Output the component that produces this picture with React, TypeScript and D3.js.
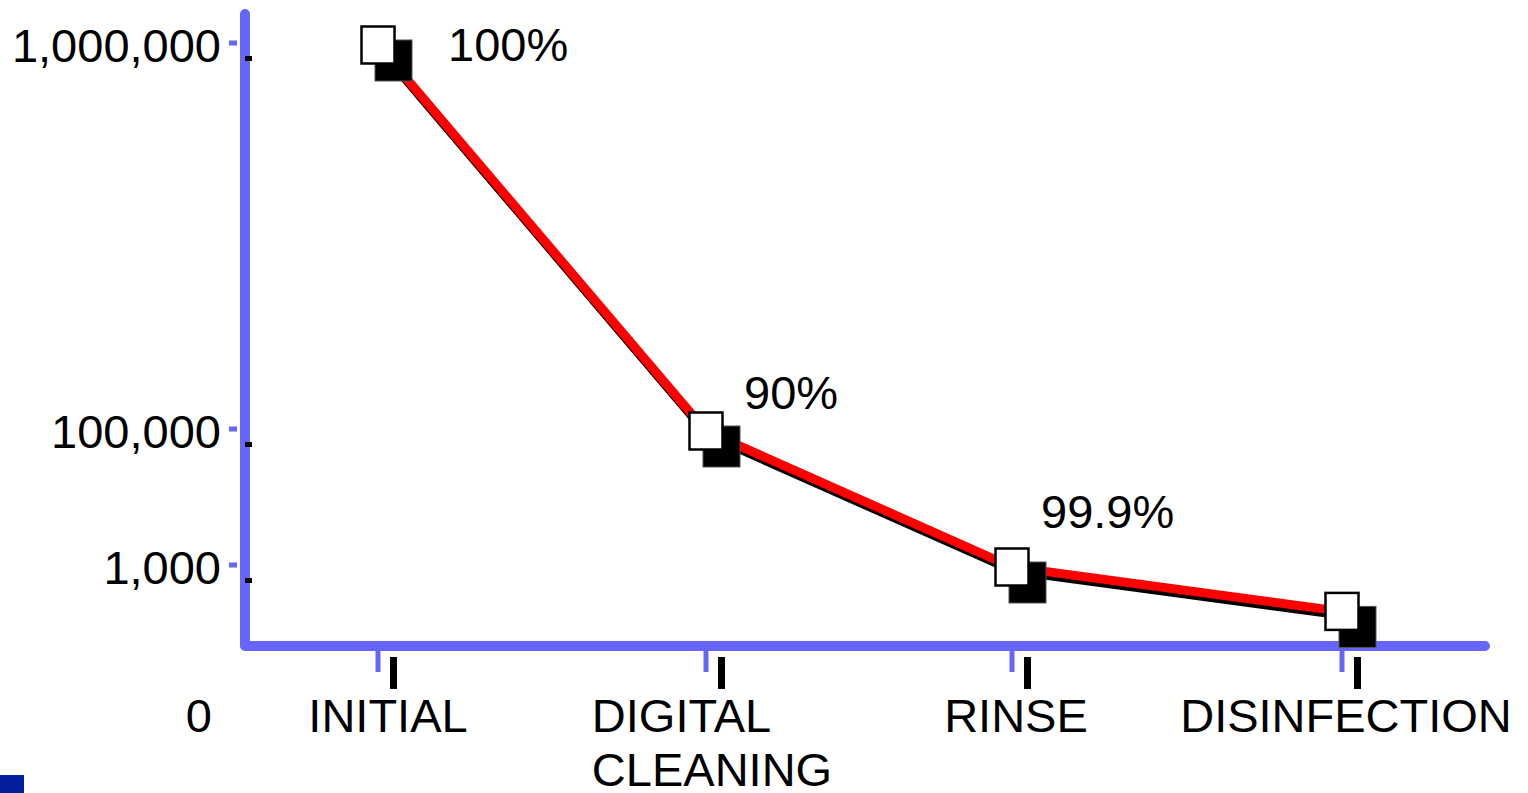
import React, { useEffect, useRef } from "react";
import * as d3 from "d3";

// ---- data ----
const categories = ["INITIAL", "DIGITAL CLEANING", "RINSE", "DISINFECTION"];
const counts = [1000000, 100000, 1000, 700];
const reductionLabels = ["100%", "90%", "99.9%", ""];
const yTickValues = [0, 1000, 100000, 1000000];
const yTickLabels = ["0", "1,000", "100,000", "1,000,000"];

// ---- layout constants ----
const W = 1528;
const H = 793;
const BLUE = "#6666FF";
const FONT = "'Liberation Sans', Arial, Helvetica, sans-serif";
const FS = 47;
const SHADOW = 15;
const categoryPositions = [378, 706, 1012, 1342];
const labelOffsets: [number, number][] = [
  [70, 16],
  [38, -22],
  [29, -39],
  [0, 0],
];

export default function App() {
  const ref = useRef<SVGSVGElement | null>(null);

  useEffect(() => {
    const svg = d3.select(ref.current);
    svg.selectAll("*").remove();

    const x = d3.scaleOrdinal<string, number>().domain(categories).range(categoryPositions);
    const y = d3
      .scaleLinear()
      .domain([0, 1000, 100000, 1000000])
      .range([715, 567, 431, 45]);

    const axisX0 = 245;
    const axisY0 = 646;

    // decoration square bottom-left
    svg.append("rect").attr("x", 0).attr("y", 775).attr("width", 24).attr("height", 18).attr("fill", "#0020A0");

    // axes
    svg
      .append("path")
      .attr("d", `M${axisX0},14 V${axisY0} H1485`)
      .attr("fill", "none")
      .attr("stroke", BLUE)
      .attr("stroke-width", 10)
      .attr("stroke-linecap", "round")
      .attr("stroke-linejoin", "round");

    // y ticks
    const yt = yTickValues.map((v, i) => ({ v, label: yTickLabels[i] }));
    yt.filter((d) => d.v > 0).forEach((d) => {
      const ty = y(d.v);
      svg.append("line").attr("x1", 229).attr("x2", 237).attr("y1", ty - 2).attr("y2", ty - 2).attr("stroke", BLUE).attr("stroke-width", 5);
      svg.append("rect").attr("x", 245).attr("y", ty + 11).attr("width", 7).attr("height", 5).attr("fill", "#000");
    });
    yt.forEach((d) => {
      svg
        .append("text")
        .attr("x", d.v === 0 ? 212 : 221)
        .attr("y", y(d.v) + 17)
        .attr("text-anchor", "end")
        .attr("font-family", FONT)
        .attr("font-size", FS)
        .attr("fill", "#000")
        .text(d.label);
    });

    // x ticks
    categories.forEach((c) => {
      const tx = x(c);
      svg.append("line").attr("x1", tx).attr("x2", tx).attr("y1", axisY0).attr("y2", 672).attr("stroke", BLUE).attr("stroke-width", 5);
      svg.append("rect").attr("x", tx + 12).attr("y", 657).attr("width", 7).attr("height", 32).attr("fill", "#000");
    });

    // category labels
    categories.forEach((c, i) => {
      const tx = x(c) + (i === 0 ? 10 : 4);
      const words = c.split(" ");
      const t = svg
        .append("text")
        .attr("font-family", FONT)
        .attr("font-size", FS)
        .attr("fill", "#000");
      if (words.length === 1) {
        t.attr("x", tx).attr("y", 732).attr("text-anchor", "middle").text(c);
      } else {
        const spans = words.map((w, k) =>
          t.append("tspan").attr("y", 732 + k * 54).text(w)
        );
        const widths = spans.map((s) => (s.node() as SVGTextContentElement).getComputedTextLength());
        const maxW = d3.max(widths) || 0;
        spans.forEach((s) => s.attr("x", tx + 2 - maxW / 2));
      }
    });

    const pts = categories.map((c, i) => ({ c, v: counts[i], px: x(c), py: y(counts[i]), lab: reductionLabels[i], off: labelOffsets[i] }));
    const line = d3
      .line<{ px: number; py: number }>()
      .x((d) => d.px)
      .y((d) => d.py);

    // shadow line
    svg
      .append("path")
      .attr("d", line(pts))
      .attr("transform", "translate(2,4)")
      .attr("fill", "none")
      .attr("stroke", "#000")
      .attr("stroke-width", 9)
      .attr("stroke-linejoin", "round");
    svg
      .append("path")
      .attr("d", line(pts))
      .attr("fill", "none")
      .attr("stroke", "#FF0000")
      .attr("stroke-width", 9)
      .attr("stroke-linejoin", "round");

    // markers
    pts.forEach((p) => {
      svg
        .append("rect")
        .attr("x", p.px - 18 + SHADOW)
        .attr("y", p.py - 20 + SHADOW)
        .attr("width", 37)
        .attr("height", 41)
        .attr("fill", "#000")
        .attr("stroke", "#555")
        .attr("stroke-width", 1);
    });
    pts.forEach((p) => {
      svg
        .append("rect")
        .attr("x", p.px - 16.5)
        .attr("y", p.py - 18.5)
        .attr("width", 33)
        .attr("height", 37)
        .attr("fill", "#fff")
        .attr("stroke", "#000")
        .attr("stroke-width", 2.5);
    });

    // reduction labels
    pts
      .filter((p) => p.lab)
      .forEach((p) => {
        svg
          .append("text")
          .attr("x", p.px + p.off[0])
          .attr("y", p.py + p.off[1])
          .attr("font-family", FONT)
          .attr("font-size", FS)
          .attr("fill", "#000")
          .text(p.lab);
      });
  }, []);

  return (
    <svg
      ref={ref}
      width={W}
      height={H}
      style={{ position: "absolute", left: 0, top: 0, background: "#fff", overflow: "hidden" }}
    />
  );
}
